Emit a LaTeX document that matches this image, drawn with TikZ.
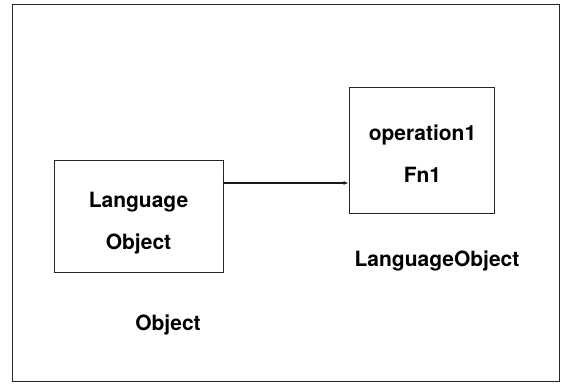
\documentclass[tikz,border=0pt]{standalone}
\usepackage{fontspec}
\setmainfont{TeX Gyre Heros}
\usetikzlibrary{arrows.meta}
\begin{document}
\begin{tikzpicture}[x=1pt,y=1pt,
  frame/.style={draw=black!85, line width=0.9pt},
  box/.style={draw=black!85, line width=0.9pt, minimum width=#1},
  lbl/.style={font=\fontsize{21}{25}\selectfont\bfseries, anchor=base, inner sep=0pt},
  conn/.style={draw=black!90, line width=1.1pt, -{Latex[length=5pt,width=4pt]}}]
\useasboundingbox (0,0) rectangle (563,385);
\draw[frame] (12,4) rectangle (559,381);
\node[box=169pt, minimum height=112pt] (lbox) at (138.5,169) {};
\node[box=145pt, minimum height=126pt] (rbox) at (421.5,235) {};
\node[lbl] (t1) at (138.5,177) {Language};
\node[lbl] (t2) at (138.5,135) {Object};
\node[lbl] (t3) at (422.5,244) {operation1};
\node[lbl] (t4) at (422.5,202) {Fn1};
\node[lbl] (t5) at (437,118) {LanguageObject};
\node[lbl] (t6) at (168,54) {Object};
\draw[conn] ([yshift=33pt]lbox.east) -- ([yshift=33pt]lbox.east -| rbox.west);
\end{tikzpicture}
\end{document}
